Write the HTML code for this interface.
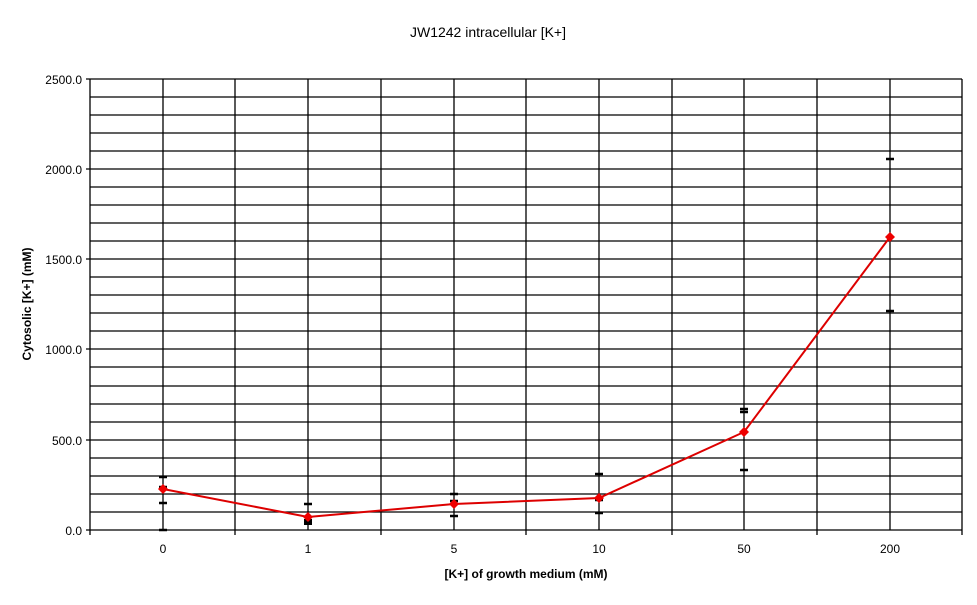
<!DOCTYPE html>
<html><head><meta charset="utf-8"><style>body{margin:0;background:#fff}</style></head><body>
<svg width="977" height="600" xmlns="http://www.w3.org/2000/svg" font-family="Liberation Sans, Arial, sans-serif">
<rect width="977" height="600" fill="#fff"/>
<text x="488" y="37" font-size="14" text-anchor="middle">JW1242 intracellular [K+]</text>
<g stroke="#000" stroke-width="1.3">
<path d="M90 79H962M90 97H962M90 115H962M90 133H962M90 151H962M90 169H962M90 187H962M90 205H962M90 223H962M90 241H962M90 259H962M90 277H962M90 295H962M90 313H962M90 331H962M90 349H962M90 367H962M90 386H962M90 404H962M90 422H962M90 440H962M90 458H962M90 476H962M90 494H962M90 512H962M90 530H962"/>
<path d="M90 79V530M163 79V530M235 79V535M308 79V530M381 79V535M454 79V530M526 79V535M599 79V530M672 79V535M744 79V530M817 79V535M890 79V530M962 79V535M90 535V530M86 79H90M86 169H90M86 259H90M86 349H90M86 440H90M86 530H90"/>
</g>
<g font-size="12" text-anchor="end">
<text x="82" y="84">2500.0</text><text x="82" y="174">2000.0</text><text x="82" y="264">1500.0</text>
<text x="82" y="354">1000.0</text><text x="82" y="445">500.0</text><text x="82" y="535">0.0</text>
</g>
<g font-size="12" text-anchor="middle">
<text x="163" y="553">0</text><text x="308" y="553">1</text><text x="454" y="553">5</text>
<text x="599" y="553">10</text><text x="744" y="553">50</text><text x="890" y="553">200</text>
</g>
<text x="526" y="578" font-size="12" font-weight="bold" text-anchor="middle">[K+] of growth medium (mM)</text>
<text transform="translate(31 304) rotate(-90)" font-size="12" font-weight="bold" text-anchor="middle">Cytosolic [K+] (mM)</text>
<g stroke="#000" stroke-width="2.5">
<path d="M159 477H167M159 503H167M159 530H167M159 487H167"/>
<path d="M304 504H312M304 522H312"/>
<path d="M450 494H458M450 516H458M450 501H458"/>
<path d="M595 474H603M595 513H603M595 500H603"/>
<path d="M740 409H748M740 412H748M740 470H748"/>
<path d="M886 159H894M886 311H894"/>
</g>
<rect x="304" y="519" width="8" height="6" fill="#000"/>
<polyline points="163,489 308,517 454,504 599,498 744,432 890,237" fill="none" stroke="#d00" stroke-width="2"/>
<g fill="#e00">
<path d="M163 484l5 5-5 5-5-5z"/><path d="M308 512l5 5-5 5-5-5z"/><path d="M454 499l5 5-5 5-5-5z"/>
<path d="M599 493l5 5-5 5-5-5z"/><path d="M744 427l5 5-5 5-5-5z"/><path d="M890 232l5 5-5 5-5-5z"/>
</g>
</svg>
</body></html>
